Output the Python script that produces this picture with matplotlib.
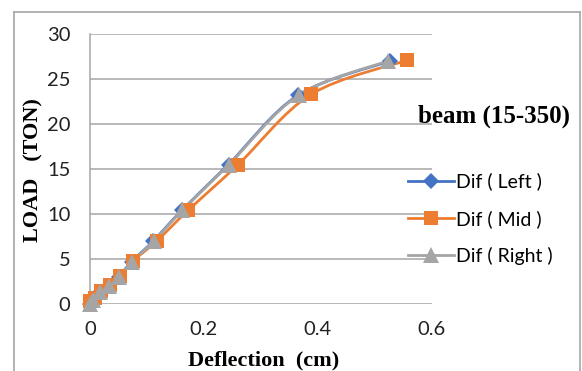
import matplotlib
matplotlib.use("Agg")
import matplotlib.pyplot as plt
from matplotlib.path import Path
from matplotlib.patches import PathPatch
from matplotlib.lines import Line2D
import numpy as np

# ---- data ----
left_x = [0, 0.006, 0.018, 0.033, 0.050, 0.073, 0.111, 0.161, 0.243, 0.365, 0.526]
left_y = [0, 0.5, 1.35, 2.0, 3.0, 4.7, 7.0, 10.4, 15.5, 23.2, 27.0]
mid_x = [0, 0.008, 0.020, 0.035, 0.052, 0.076, 0.117, 0.172, 0.260, 0.388, 0.557]
mid_y = [0.3, 0.7, 1.4, 2.1, 3.1, 4.8, 7.0, 10.4, 15.5, 23.3, 27.1]
right_x = [0, 0.006, 0.018, 0.034, 0.050, 0.074, 0.112, 0.162, 0.244, 0.366, 0.522]
right_y = [0, 0.5, 1.35, 2.0, 3.0, 4.7, 7.0, 10.4, 15.5, 23.2, 27.0]
series_names = ["Dif ( Left )", "Dif ( Mid )", "Dif ( Right )"]
colors = ["#4472C4", "#ED7D31", "#A5A5A5"]
markers = ["D", "s", "^"]
msizes = [8, 9.5, 11]
x_ticks = [0, 0.2, 0.4, 0.6]
x_tick_labels = ["0", "0.2", "0.4", "0.6"]
y_ticks = [0, 5, 10, 15, 20, 25, 30]

W, H = 582, 371
fig = plt.figure(figsize=(W / 100, H / 100), dpi=100)
ax = fig.add_axes([90 / W, (H - 304) / H, 342 / W, 270 / H])

def smooth_path(xs, ys):
    pts = np.column_stack([xs, ys]).astype(float)
    n = len(pts)
    verts = [pts[0]]
    codes = [Path.MOVETO]
    for i in range(n - 1):
        p0 = pts[i - 1] if i > 0 else pts[i]
        p1 = pts[i]
        p2 = pts[i + 1]
        p3 = pts[i + 2] if i + 2 < n else pts[i + 1]
        c1 = p1 + (p2 - p0) / 6.0
        c2 = p2 - (p3 - p1) / 6.0
        verts += [c1, c2, p2]
        codes += [Path.CURVE4] * 3
    return Path(verts, codes)

all_series = [(left_x, left_y), (mid_x, mid_y), (right_x, right_y)]
for (xs, ys), c, m, ms in zip(all_series, colors, markers, msizes):
    patch = PathPatch(smooth_path(xs, ys), facecolor="none", edgecolor=c,
                      lw=2.0, transform=ax.transData, clip_on=False, zorder=3)
    ax.add_patch(patch)
    ax.plot(xs, ys, linestyle="none", marker=m, color=c, markersize=ms,
            markeredgewidth=0, zorder=4, clip_on=False)

ax.set_xlim(0, 0.6)
ax.set_ylim(0, 30)
ax.set_xticks(x_ticks)
ax.set_xticklabels(x_tick_labels)
ax.set_yticks(y_ticks)
ax.tick_params(length=0, labelsize=14.5, labelcolor="#222222")
ax.tick_params(axis="y", pad=14)
ax.tick_params(axis="x", pad=12)
for lab in ax.get_xticklabels() + ax.get_yticklabels():
    lab.set_fontfamily("Lato")
ax.grid(axis="y", color="#A6A6A6", lw=1.1)
ax.set_axisbelow(True)
for s in ["top", "right", "bottom"]:
    ax.spines[s].set_visible(False)
ax.spines["left"].set_color("#A6A6A6")
ax.spines["left"].set_linewidth(1.1)

fig.text(264 / W, 1 - 360 / H, "Deflection  (cm)", ha="center", va="center",
         family="Liberation Serif", weight="bold", fontsize=16)
fig.text(33 / W, 1 - 170 / H, "LOAD   (TON)", ha="center", va="center",
         rotation=90, family="Liberation Serif", weight="bold", fontsize=16)
fig.text(494 / W, 1 - 116 / H, "beam (15-350)", ha="center", va="center",
         family="Liberation Serif", weight="bold", fontsize=18)

# legend
handles = [Line2D([], [], color=c, marker=m, markersize=ms, lw=2.0, markeredgewidth=0)
           for c, m, ms in zip(colors, markers, msizes)]
leg = fig.legend(handles, series_names, loc="upper left",
                 bbox_to_anchor=(391 / W, 1 - 155 / H), frameon=False,
                 prop={"family": "Lato", "size": 14}, handlelength=2.35,
                 labelspacing=1.0, handletextpad=0.1)

# chart border
border = dict(color="#A6A6A6", lw=1.2, transform=fig.transFigure)
fig.add_artist(Line2D([14 / W, 14 / W], [0, 1 - 12 / H], **border))
fig.add_artist(Line2D([14 / W, 580 / W], [1 - 12 / H, 1 - 12 / H], **border))
fig.add_artist(Line2D([580 / W, 580 / W], [0, 1 - 12 / H], **border))

fig.savefig("out.png", dpi=100)
